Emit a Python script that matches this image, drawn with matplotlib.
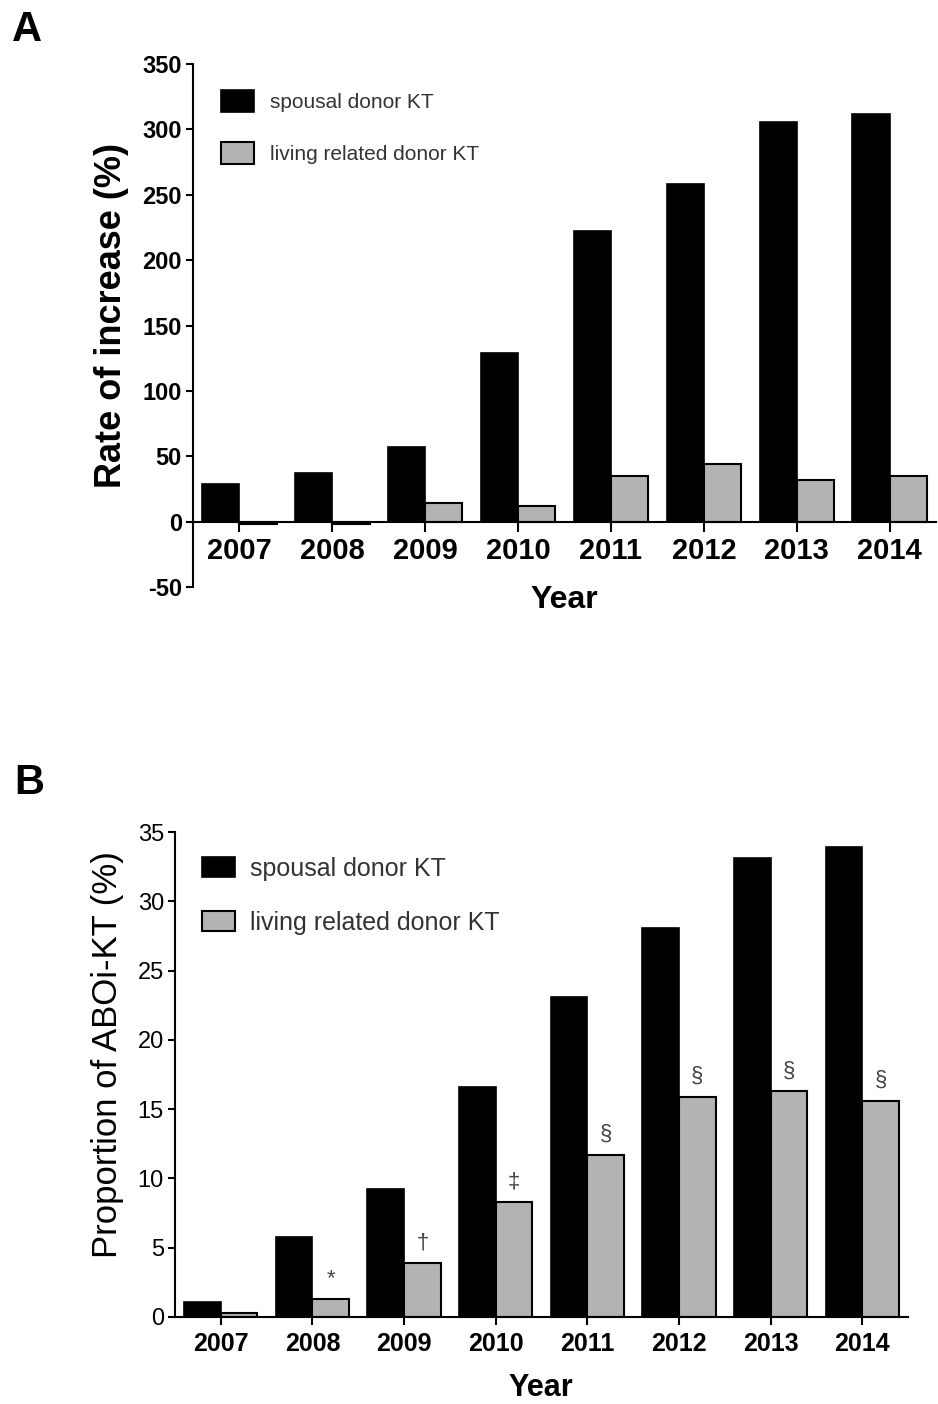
import matplotlib
matplotlib.use("Agg")
import matplotlib.pyplot as plt
from matplotlib.patches import Patch

plt.rcParams['font.family'] = ['Liberation Sans', 'DejaVu Sans']
plt.rcParams['axes.unicode_minus'] = False  # 顯示普通負號

# 資料
years = ['2007', '2008', '2009', '2010', '2011', '2012', '2013', '2014']
rate_spousal = [29, 37, 57, 129, 222, 258, 306, 312]
rate_related = [-2, -2, 14, 12, 35, 44, 32, 35]
prop_spousal = [1.1, 5.8, 9.2, 16.6, 23.1, 28.1, 33.1, 33.9]
prop_related = [0.3, 1.3, 3.9, 8.3, 11.7, 15.9, 16.3, 15.6]
marks = ['', '*', '†', '‡', '§', '§', '§', '§']
labels = ['spousal donor KT', 'living related donor KT']

GRAY = '#b3b3b3'
x = list(range(len(years)))
xs = [i - 0.2 for i in x]
xr = [i + 0.2 for i in x]

fig = plt.figure(figsize=(9.38, 14.04), dpi=100)

# ---- 圖 A ----
axA = fig.add_axes([0.2058, 0.5819, 0.7921, 0.3725])
axA.spines['top'].set_visible(False)
axA.spines['right'].set_visible(False)
axA.spines['bottom'].set_position(('data', 0))
for s in ['left', 'bottom']:
    axA.spines[s].set_linewidth(1.5)
axA.bar(xs, rate_spousal, width=0.4, color='black', edgecolor='black', linewidth=1.2)
axA.bar(xr, rate_related, width=0.4, color=GRAY, edgecolor='black', linewidth=1.5)
axA.set_xlim(-0.5, 7.5)
axA.set_ylim(-50, 350)
axA.set_yticks(range(-50, 351, 50))
axA.set_xticks(x)
axA.set_xticklabels(years, fontweight='bold')
for t in axA.get_yticklabels():
    t.set_fontweight('bold')
axA.tick_params(axis='y', direction='out', length=5, width=1.5, pad=3, labelsize=17)
axA.tick_params(axis='x', direction='out', length=7, width=1.5, pad=4, labelsize=21)

handlesA = [Patch(facecolor='black', edgecolor='black', linewidth=1.2),
            Patch(facecolor=GRAY, edgecolor='black', linewidth=1.5)]
legA = axA.legend(handlesA, labels, loc='upper left', bbox_to_anchor=(221 / 938, 1 - 90 / 1404),
                  bbox_transform=fig.transFigure, frameon=False, fontsize=15,
                  handlelength=1.6, handleheight=1.25, handletextpad=0.75,
                  labelspacing=1.45, borderpad=0, borderaxespad=0)
for t in legA.get_texts():
    t.set_color('#333333')

fig.text(0.119, 0.775, 'Rate of increase (%)', rotation=90, ha='center', va='center',
         fontsize=26, fontweight='bold')
fig.text(564 / 938, 1 - 600 / 1404, 'Year', ha='center', va='center', fontsize=23, fontweight='bold')
fig.text(12 / 938, 1 - 30 / 1404, 'A', ha='left', va='center', fontsize=30, fontweight='bold')

# ---- 圖 B ----
axB = fig.add_axes([0.1866, 0.0620, 0.7814, 0.3454])
axB.spines['top'].set_visible(False)
axB.spines['right'].set_visible(False)
for s in ['left', 'bottom']:
    axB.spines[s].set_linewidth(1.5)
axB.bar(xs, prop_spousal, width=0.4, color='black', edgecolor='black', linewidth=1.2)
barsR = axB.bar(xr, prop_related, width=0.4, color=GRAY, edgecolor='black', linewidth=1.5)
axB.set_xlim(-0.5, 7.5)
axB.set_ylim(0, 35)
axB.set_yticks(range(0, 36, 5))
axB.set_xticks(x)
axB.set_xticklabels(years, fontweight='bold')
axB.tick_params(axis='y', direction='out', length=5, width=1.5, pad=3, labelsize=17)
axB.tick_params(axis='x', direction='out', length=6, width=1.5, pad=5, labelsize=18)

for b, m in zip(barsR, marks):
    if m:
        axB.annotate(m, (b.get_x() + b.get_width() / 2, b.get_height()), xytext=(0, 7),
                     textcoords='offset points', ha='center', va='bottom', fontsize=16, color='#444444')

handlesB = [Patch(facecolor='black', edgecolor='black', linewidth=1.2),
            Patch(facecolor=GRAY, edgecolor='black', linewidth=1.5)]
legB = axB.legend(handlesB, labels, loc='upper left', bbox_to_anchor=(202 / 938, 1 - 857 / 1404),
                  bbox_transform=fig.transFigure, frameon=False, fontsize=18,
                  handlelength=1.3, handleheight=0.85, handletextpad=0.6,
                  labelspacing=1.2, borderpad=0, borderaxespad=0)
for t in legB.get_texts():
    t.set_color('#333333')

fig.text(108 / 938, 1 - 1055 / 1404, 'Proportion of ABOi-KT (%)', rotation=90, ha='center', va='center',
         fontsize=25)
fig.text(541 / 938, 1 - 1388 / 1404, 'Year', ha='center', va='center', fontsize=22, fontweight='bold')
fig.text(14 / 938, 1 - 783 / 1404, 'B', ha='left', va='center', fontsize=30, fontweight='bold')

fig.savefig('out.png', dpi=100)
